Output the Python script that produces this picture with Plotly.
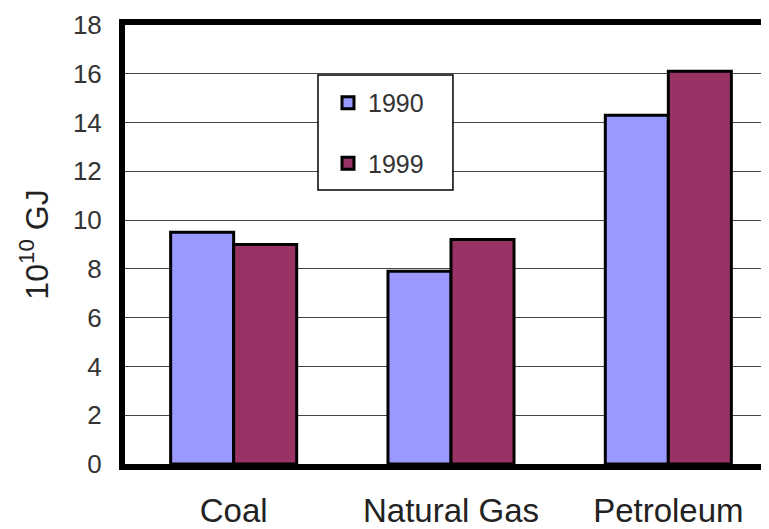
import plotly.graph_objects as go

categories = ["Coal", "Natural Gas", "Petroleum"]
values_1990 = [9.5, 7.9, 14.3]
values_1999 = [9.0, 9.2, 16.1]
series_names = ["1990", "1999"]
y_ticks = [0, 2, 4, 6, 8, 10, 12, 14, 16, 18]

fig = go.Figure()
fig.add_trace(go.Bar(x=categories, y=values_1990, name=series_names[0],
                     marker=dict(color="#9999FF", line=dict(color="#000000", width=3)),
                     legendgroup="a"))
fig.add_trace(go.Bar(x=categories, y=values_1999, name=series_names[1],
                     marker=dict(color="#993366", line=dict(color="#000000", width=3)),
                     legendgroup="b"))

# legend frame (box drawn behind the legend entries)
fig.add_shape(type="rect", xref="paper", yref="paper",
              x0=0.296, x1=0.503, y0=0.624, y1=0.886,
              line=dict(color="#000000", width=1.5), fillcolor="white", layer="above")

fig.update_layout(
    width=769, height=529,
    margin=dict(l=117, r=0, t=17, b=73),
    paper_bgcolor="white", plot_bgcolor="white",
    barmode="group", bargap=0.42, bargroupgap=0,
    font=dict(family="Liberation Sans, Arial, sans-serif", color="#222222"),
    showlegend=True,
    legend=dict(x=0.296, y=0.875, xanchor="left", yanchor="top",
                bgcolor="rgba(0,0,0,0)", borderwidth=0,
                font=dict(size=25, color="#333333"),
                traceorder="grouped", tracegroupgap=25, indentation=10),
    xaxis=dict(range=[-0.5, 2.5], showline=True, linecolor="#000000", linewidth=6,
               mirror=True, ticks="", tickfont=dict(size=33, color="#222222"),
               ticklabelstandoff=12, showgrid=False, automargin=False),
    yaxis=dict(range=[0, 18], tickvals=y_ticks, showline=True, linecolor="#000000",
               linewidth=6, showgrid=True, gridcolor="#444444", gridwidth=1,
               tickfont=dict(size=26, color="#333333"), ticks="", ticklen=0,
               ticklabelstandoff=12,
               title=dict(text="10<sup>10</sup> GJ", font=dict(size=32, color="#222222"),
                          standoff=17),
               zeroline=False, automargin=False),
)

fig.write_html("out.html")
